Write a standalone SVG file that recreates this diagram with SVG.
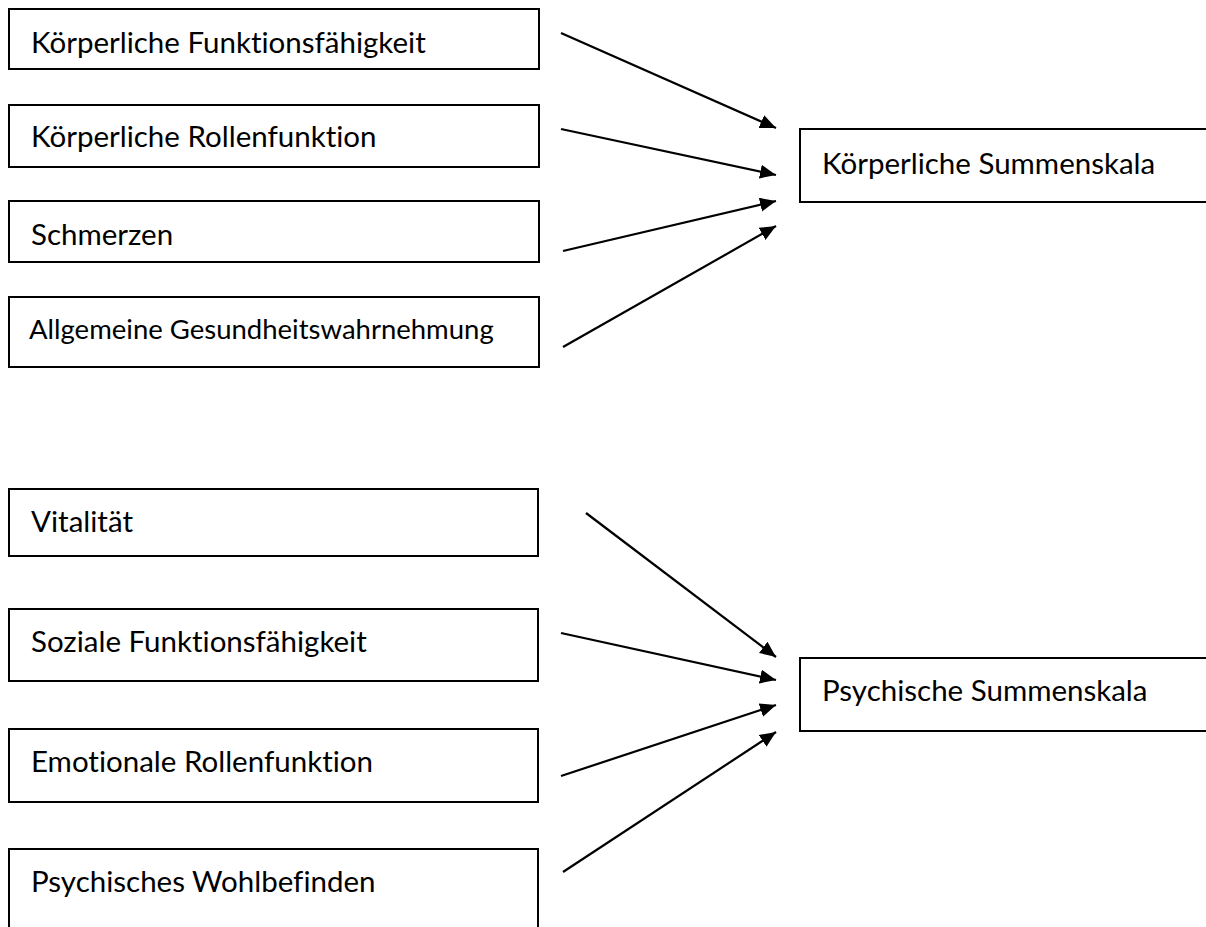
<svg xmlns="http://www.w3.org/2000/svg" width="1206" height="927" viewBox="0 0 1206 927">
<style>
.box{fill:#fff;stroke:#000;stroke-width:2}
.t{font-family:Lato,"Liberation Sans",sans-serif;font-size:29.5px;fill:#000;font-variant-ligatures:none}
.s{font-size:27.5px}
.c{stroke:#000;stroke-width:2.2;fill:none}
</style>
<defs>
<marker id="ah" markerUnits="userSpaceOnUse" markerWidth="17" markerHeight="15" refX="16" refY="7" orient="auto">
<path d="M0,0 L16,7 L0,14 z" fill="#000"/>
</marker>
</defs>
<rect width="1206" height="927" fill="#fff"/>
<g id="n1"><rect class="box" x="9" y="9" width="530" height="60"/><text class="t" x="31" y="53">Körperliche Funktionsfähigkeit</text></g>
<g id="n2"><rect class="box" x="9" y="105" width="530" height="62"/><text class="t" x="31" y="147">Körperliche Rollenfunktion</text></g>
<g id="n3"><rect class="box" x="9" y="201" width="530" height="61"/><text class="t" x="31" y="245">Schmerzen</text></g>
<g id="n4"><rect class="box" x="9" y="297" width="530" height="70"/><text class="t s" x="29" y="339">Allgemeine Gesundheitswahrnehmung</text></g>
<g id="n5"><rect class="box" x="800" y="129" width="420" height="73"/><text class="t" x="822" y="174">Körperliche Summenskala</text></g>
<g id="n6"><rect class="box" x="9" y="489" width="529" height="67"/><text class="t" x="31" y="532">Vitalität</text></g>
<g id="n7"><rect class="box" x="9" y="609" width="529" height="72"/><text class="t" x="31" y="652">Soziale Funktionsfähigkeit</text></g>
<g id="n8"><rect class="box" x="9" y="729" width="529" height="73"/><text class="t" x="31" y="772">Emotionale Rollenfunktion</text></g>
<g id="n9"><rect class="box" x="9" y="849" width="529" height="100"/><text class="t" x="31" y="892">Psychisches Wohlbefinden</text></g>
<g id="n10"><rect class="box" x="800" y="658" width="420" height="73"/><text class="t" x="822" y="701">Psychische Summenskala</text></g>
<g id="connectors">
<line class="c" x1="561" y1="33" x2="776" y2="128" marker-end="url(#ah)"/>
<line class="c" x1="561" y1="129" x2="776" y2="175" marker-end="url(#ah)"/>
<line class="c" x1="563" y1="251" x2="776" y2="201" marker-end="url(#ah)"/>
<line class="c" x1="563" y1="347" x2="776" y2="226" marker-end="url(#ah)"/>
<line class="c" x1="586" y1="513" x2="776" y2="657" marker-end="url(#ah)"/>
<line class="c" x1="561" y1="633" x2="776" y2="680" marker-end="url(#ah)"/>
<line class="c" x1="561" y1="776" x2="776" y2="705" marker-end="url(#ah)"/>
<line class="c" x1="563" y1="872" x2="776" y2="732" marker-end="url(#ah)"/>
</g>
</svg>
